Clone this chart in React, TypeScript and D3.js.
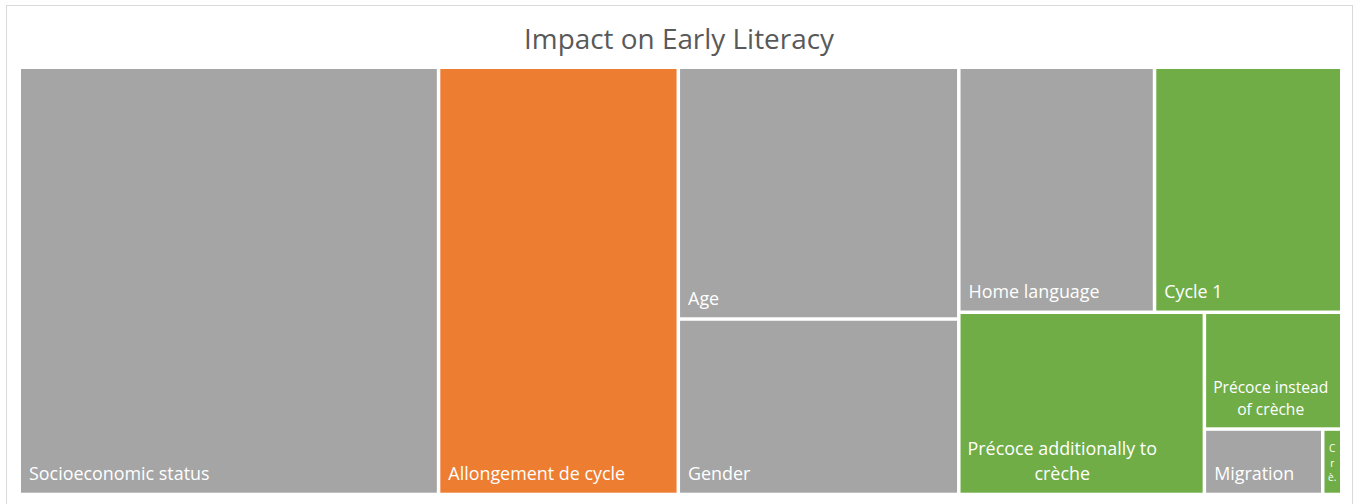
import { useMemo } from 'react'
import * as d3 from 'd3'

// Treemap data (share of impact, %)
const CATEGORIES = [
  'Socioeconomic status', 'Allongement de cycle', 'Age', 'Gender', 'Home language',
  'Cycle 1', 'Précoce additionally to crèche', 'Précoce instead of crèche', 'Migration', 'Crèche',
]
const IMPACT = [31.71, 18.13, 12.5, 8.71, 8.49, 8.12, 7.92, 2.84, 1.37, 0.22]
const GROUPS = [
  'background', 'intervention', 'background', 'background', 'background',
  'preschool', 'preschool', 'preschool', 'background', 'preschool',
]
const TITLE = 'Impact on Early Literacy'

const GROUP_COLORS: Record<string, string> = {
  background: '#A5A5A5',
  intervention: '#ED7D31',
  preschool: '#70AD47',
}

const W = 1363
const H = 504
const FONT = '"Open Sans", "Noto Sans", sans-serif'
const plot = { x: 21, y: 69, w: 1319, h: 423.7 }

let ctx: CanvasRenderingContext2D | null = null
function measure(text: string, size: number) {
  if (!ctx) ctx = document.createElement('canvas').getContext('2d')
  ctx!.font = `${size}px ${FONT}`
  return ctx!.measureText(text).width
}

function wrap(text: string, size: number, maxW: number) {
  const words = text.split(' ')
  const lines: string[] = []
  let cur = ''
  words.forEach((w) => {
    const t = cur ? cur + ' ' + w : w
    if (cur && measure(t, size) > maxW) { lines.push(cur); cur = w } else cur = t
  })
  if (cur) lines.push(cur)
  return lines
}

type Leaf = d3.HierarchyRectangularNode<any>

function Label({ d }: { d: Leaf }) {
  const w = d.x1 - d.x0
  const name: string = d.data.name
  if (w < 30) {
    // too narrow: Excel stacks the first letters vertically
    const chars = name.slice(0, 3).split('')
    chars[chars.length - 1] += '.'
    const size = 10
    const lh = size * 1.45
    const cx = (d.x0 + d.x1) / 2
    return (
      <text fill="#fff" fontSize={size} fontFamily={FONT} textAnchor="middle">
        {chars.map((c, i) => (
          <tspan key={i} x={cx} y={d.y1 - 11.5 - (chars.length - 1 - i) * lh}>{c}</tspan>
        ))}
      </text>
    )
  }
  const maxW = w - 12
  let size = 17.9
  let lines = wrap(name, size, maxW)
  if (lines.length > 2 || (lines.length > 1 && w < 150)) {
    size = 15.6
    lines = wrap(name, size, maxW)
  }
  const lh = size * 1.4
  const bottom = d.y1 - 12.5
  if (lines.length === 1) {
    return (
      <text x={d.x0 + 8} y={bottom} fill="#fff" fontSize={size} fontFamily={FONT}>{name}</text>
    )
  }
  const blockW = d3.max(lines, (l) => measure(l, size)) ?? 0
  const cx = d.x0 + 7 + blockW / 2
  return (
    <text fill="#fff" fontSize={size} fontFamily={FONT} textAnchor="middle">
      {lines.map((l, i) => (
        <tspan key={i} x={cx} y={bottom - (lines.length - 1 - i) * lh}>{l}</tspan>
      ))}
    </text>
  )
}

export default function App() {
  const leaves = useMemo(() => {
    const root = d3
      .hierarchy<any>({
        name: 'root',
        children: CATEGORIES.map((name, i) => ({ name, value: IMPACT[i], group: GROUPS[i] })),
      })
      .sum((d) => d.value ?? 0)
      .sort((a, b) => (b.value ?? 0) - (a.value ?? 0))

    d3.treemap<any>()
      .tile(d3.treemapSquarify.ratio(1))
      .size([plot.w, plot.h])
      .paddingInner(3.5)(root)

    return root.leaves() as Leaf[]
  }, [])

  return (
    <div style={{ position: 'fixed', left: 0, top: 0, width: W, height: H, background: '#fff' }}>
      <svg width={W} height={H} style={{ display: 'block' }}>
        <rect x={6.5} y={5.5} width={1346} height={505} fill="#fff" stroke="#D9D9D9" />
        <text x={679} y={48.5} textAnchor="middle" fontSize={27.9} fontFamily={FONT} fill="#595959">
          {TITLE}
        </text>
        <g transform={`translate(${plot.x},${plot.y})`}>
          {leaves.map((d, i) => (
            <rect
              key={i}
              x={d.x0}
              y={d.y0}
              width={d.x1 - d.x0}
              height={d.y1 - d.y0}
              fill={GROUP_COLORS[d.data.group]}
            />
          ))}
          {leaves.map((d, i) => <Label key={i} d={d} />)}
        </g>
      </svg>
    </div>
  )
}
